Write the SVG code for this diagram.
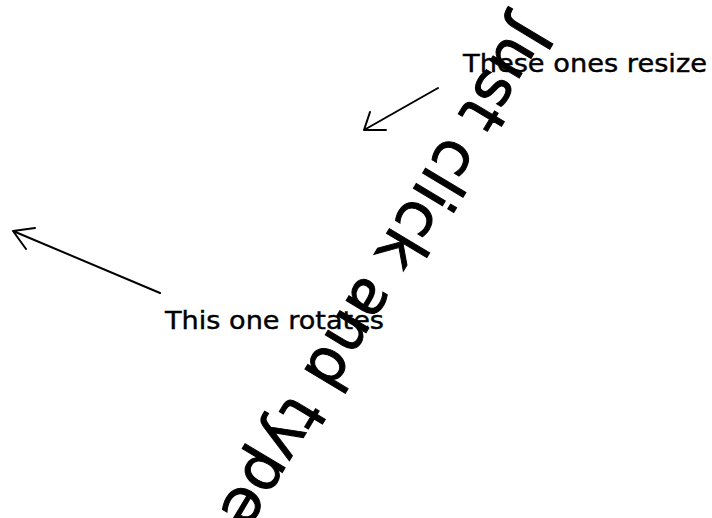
<svg xmlns="http://www.w3.org/2000/svg" width="712" height="518" viewBox="0 0 712 518">
<style>
.lbl{font-family:"DejaVu Sans","Liberation Sans",sans-serif;fill:#000}
.big{stroke:#000;stroke-width:1}
.small{stroke:#000;stroke-width:0.4}
.conn{stroke:#000;stroke-width:2;fill:none;stroke-linecap:round;stroke-linejoin:round}
</style>
<rect width="712" height="518" fill="#fff"/>
<g id="big-text">
<text class="lbl big" x="0" y="0" font-size="62" text-anchor="middle" textLength="580" lengthAdjust="spacing" transform="translate(368,264) rotate(121)">Just click and type</text>
</g>
<g id="label-resize">
<text class="lbl small" x="463" y="72" font-size="24" textLength="244" lengthAdjust="spacingAndGlyphs">These ones resize</text>
</g>
<g id="label-rotate">
<text class="lbl small" x="165" y="329" font-size="24" textLength="219" lengthAdjust="spacingAndGlyphs">This one rotates</text>
</g>
<g id="connectors">
<path class="conn" d="M438,88 L364,130 M370,112 L364,130 L386,130"/>
<path class="conn" d="M160,293 L13,231 M35,228 L13,231 L26,249"/>
</g>
</svg>
